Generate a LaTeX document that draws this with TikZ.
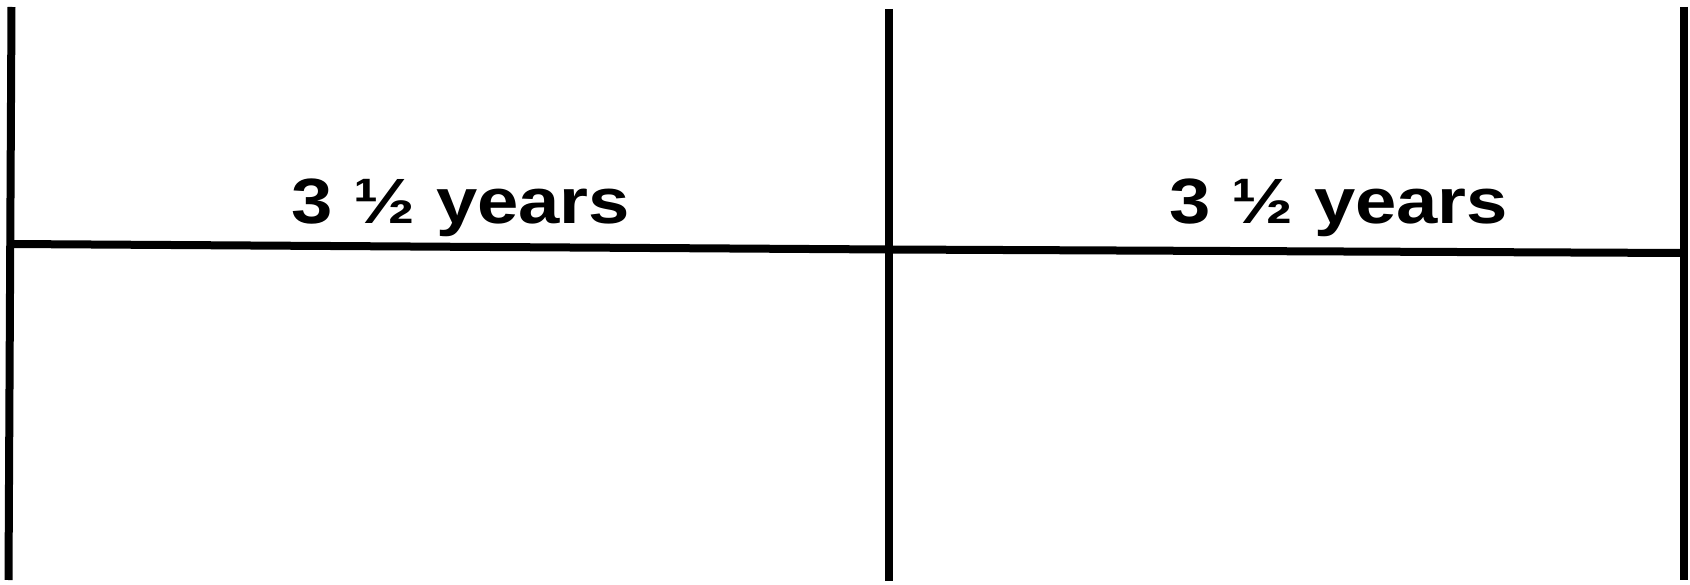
\documentclass[tikz,border=0pt]{standalone}
\usepackage{fontspec}
\setmainfont{Liberation Sans}
\begin{document}
\begin{tikzpicture}[x=1pt,y=-1pt,
  bar/.style={line width=8pt,draw=black},
  lbl/.style={font=\fontsize{64}{72}\selectfont\bfseries,inner sep=0pt,anchor=base,xscale=1.16}]
\useasboundingbox (0,0) rectangle (1690,585);
\coordinate (lt) at (11.5,7);
\coordinate (lb) at (8.5,580);
\coordinate (mt) at (889,9);
\coordinate (mb) at (889,581);
\coordinate (rt) at (1684,7);
\coordinate (rb) at (1684,580);
\coordinate (hl) at (11,244);
\coordinate (hm) at (889,249.5);
\coordinate (hr) at (1684,253);
\draw[bar] (lt) -- (lb);
\draw[bar] (mt) -- (mb);
\draw[bar] (rt) -- (rb);
\draw[bar] (hl) -- (hm) -- (hr);
\node[lbl] (t1) at (461,224) {3 ½ years};
\node[lbl] (t2) at (1339,224) {3 ½ years};
\end{tikzpicture}
\end{document}
